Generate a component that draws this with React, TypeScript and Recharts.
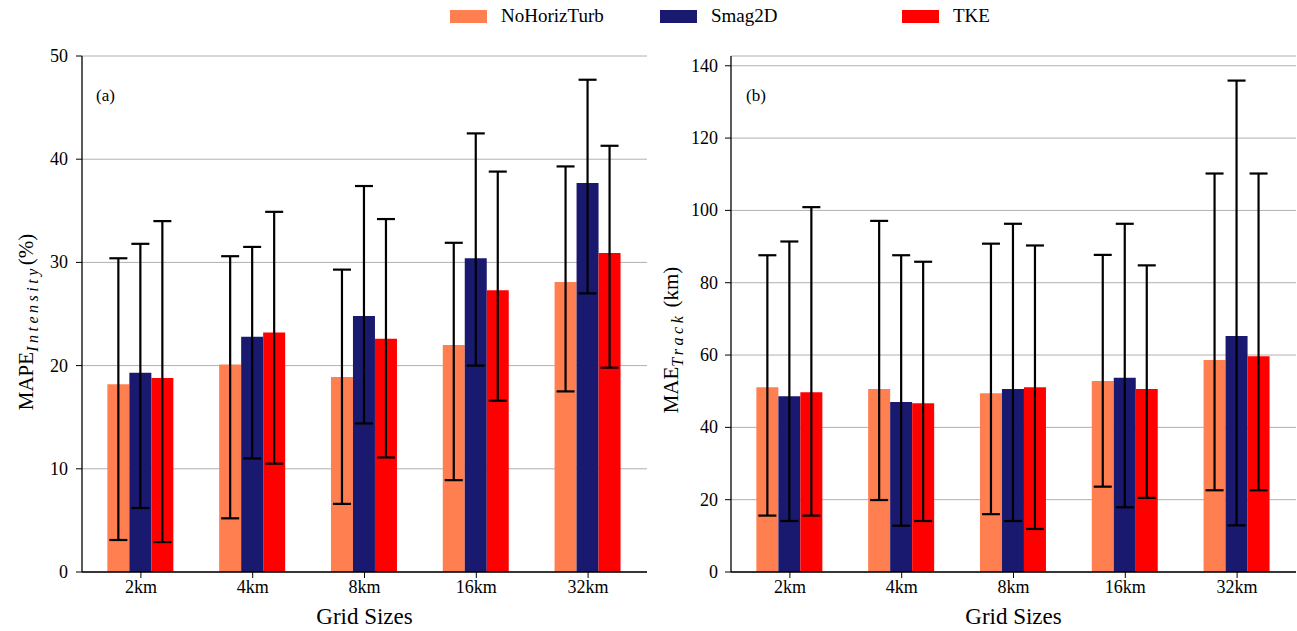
import React from 'react';
import { BarChart, Bar, XAxis, YAxis, CartesianGrid, ErrorBar } from 'recharts';

const FONT = 'Liberation Serif, DejaVu Serif, serif';

const categories = ['2km', '4km', '8km', '16km', '32km'];

// (a) MAPE intensity (%)
const intNoHoriz = [18.2, 20.1, 18.9, 22.0, 28.1];
const intNoHorizLow = [3.1, 5.2, 6.6, 8.9, 17.5];
const intNoHorizHigh = [30.4, 30.6, 29.3, 31.9, 39.3];
const intSmag = [19.3, 22.8, 24.8, 30.4, 37.7];
const intSmagLow = [6.2, 11.0, 14.4, 20.0, 27.0];
const intSmagHigh = [31.8, 31.5, 37.4, 42.5, 47.7];
const intTke = [18.8, 23.2, 22.6, 27.3, 30.9];
const intTkeLow = [2.9, 10.5, 11.1, 16.6, 19.8];
const intTkeHigh = [34.0, 34.9, 34.2, 38.8, 41.3];

// (b) MAE track (km)
const trkNoHoriz = [51.1, 50.6, 49.4, 52.8, 58.6];
const trkNoHorizLow = [15.6, 19.9, 16.0, 23.6, 22.6];
const trkNoHorizHigh = [87.6, 97.1, 90.8, 87.7, 110.2];
const trkSmag = [48.6, 47.0, 50.6, 53.7, 65.3];
const trkSmagLow = [14.1, 12.8, 14.1, 17.9, 12.9];
const trkSmagHigh = [91.4, 87.6, 96.3, 96.3, 135.9];
const trkTke = [49.7, 46.7, 51.1, 50.6, 59.7];
const trkTkeLow = [15.6, 14.1, 11.9, 20.5, 22.6];
const trkTkeHigh = [100.9, 85.8, 90.3, 84.8, 110.2];

const intTicks = [0, 10, 20, 30, 40, 50];
const trkTicks = [0, 20, 40, 60, 80, 100, 120, 140];

const series = [
  { key: 'noHoriz', name: 'NoHorizTurb', color: '#FF7F50' },
  { key: 'smag', name: 'Smag2D', color: '#191970' },
  { key: 'tke', name: 'TKE', color: '#FF0000' },
];

const err = (v: number, lo: number, hi: number) => [+(v - lo).toFixed(2), +(hi - v).toFixed(2)];

const intData = categories.map((cat, i) => ({
  cat,
  noHoriz: intNoHoriz[i],
  noHorizErr: err(intNoHoriz[i], intNoHorizLow[i], intNoHorizHigh[i]),
  smag: intSmag[i],
  smagErr: err(intSmag[i], intSmagLow[i], intSmagHigh[i]),
  tke: intTke[i],
  tkeErr: err(intTke[i], intTkeLow[i], intTkeHigh[i]),
}));

const trkData = categories.map((cat, i) => ({
  cat,
  noHoriz: trkNoHoriz[i],
  noHorizErr: err(trkNoHoriz[i], trkNoHorizLow[i], trkNoHorizHigh[i]),
  smag: trkSmag[i],
  smagErr: err(trkSmag[i], trkSmagLow[i], trkSmagHigh[i]),
  tke: trkTke[i],
  tkeErr: err(trkTke[i], trkTkeLow[i], trkTkeHigh[i]),
}));

// tick renderers with an explicit serif face
const XTick = ({ x, y, payload }: any) => (
  <text x={x} y={y + 15} textAnchor="middle" fontFamily={FONT} fontSize={18} fill="#000">
    {payload.value}
  </text>
);

const YTick = ({ x, y, payload }: any) => (
  <text x={x} y={y + 6} textAnchor="end" fontFamily={FONT} fontSize={18} fill="#000">
    {payload.value}
  </text>
);

const makeYLabel = (main: string, sub: string, rest: string, bx: number, cy: number) => () => (
  <text
    x={bx}
    y={cy}
    transform={`rotate(-90, ${bx}, ${cy})`}
    textAnchor="middle"
    fontFamily={FONT}
    fontSize={21}
    fill="#000"
  >
    {main}
    <tspan fontSize={16} fontStyle="italic" letterSpacing={3.5} dy={5}>{sub}</tspan>
    <tspan dy={-5}>{rest}</tspan>
  </text>
);

type PanelProps = {
  data: any[];
  width: number;
  marginLeft: number;
  marginRight: number;
  domain: [number, number];
  ticks: number[];
  tickMargin: number;
  yLabel: () => React.ReactElement;
};

const Panel = ({ data, width, marginLeft, marginRight, domain, ticks, tickMargin, yLabel }: PanelProps) => (
  <BarChart
    width={width}
    height={631}
    data={data}
    margin={{ top: 56, right: marginRight, bottom: 29, left: marginLeft }}
    barCategoryGap="20%"
    barGap={0}
  >
    {series.map((s) => (
      <Bar key={s.key} dataKey={s.key} name={s.name} fill={s.color} isAnimationActive={false}>
        <ErrorBar dataKey={`${s.key}Err`} stroke="#000" strokeWidth={2.2} width={9} />
      </Bar>
    ))}
    <CartesianGrid vertical={false} stroke="#b0b0b0" strokeWidth={1} />
    <XAxis
      dataKey="cat"
      height={30}
      padding={{ left: 3, right: 3 }}
      tick={<XTick />}
      tickSize={6}
      tickMargin={0}
      axisLine={{ stroke: '#000', strokeWidth: 1.3 }}
      tickLine={{ stroke: '#000' }}
      label={{ value: 'Grid Sizes', position: 'insideBottom', offset: -22, fill: '#000', fontSize: 23, fontFamily: FONT }}
    />
    <XAxis xAxisId="top" orientation="top" dataKey="cat" height={0} tick={false} tickLine={false} axisLine={{ stroke: '#000', strokeWidth: 1.3 }} />
    <YAxis
      width={50}
      domain={domain}
      ticks={ticks}
      type="number"
      allowDataOverflow
      tick={<YTick />}
      tickSize={6}
      tickMargin={tickMargin}
      axisLine={{ stroke: '#000', strokeWidth: 1.3 }}
      tickLine={{ stroke: '#000' }}
      label={{ content: yLabel }}
    />
    <YAxis yAxisId="right" orientation="right" width={0} tick={false} tickLine={false} axisLine={{ stroke: '#000', strokeWidth: 1.3 }} />
  </BarChart>
);

const legendItems = [
  { name: 'NoHorizTurb', color: '#FF7F50', left: 450 },
  { name: 'Smag2D', color: '#191970', left: 660 },
  { name: 'TKE', color: '#FF0000', left: 902 },
];

export default function App() {
  return (
    <div style={{ position: 'absolute', left: 0, top: 0, width: 1297, height: 631, background: '#fff', fontFamily: FONT }}>
      {legendItems.map((it) => (
        <div key={it.name} style={{ position: 'absolute', left: it.left, top: 4, height: 24, display: 'flex', alignItems: 'center' }}>
          <span style={{ display: 'inline-block', width: 37, height: 13, background: it.color, marginRight: 14 }} />
          <span style={{ fontSize: 19, color: '#000' }}>{it.name}</span>
        </div>
      ))}
      <div style={{ position: 'absolute', left: 0, top: 0 }}>
        <Panel
          data={intData}
          width={655}
          marginLeft={32}
          marginRight={8}
          domain={[0, 50]}
          ticks={intTicks}
          tickMargin={8}
          yLabel={makeYLabel('MAPE', 'Intensity', '(%)', 33, 322)}
        />
      </div>
      <div style={{ position: 'absolute', left: 650, top: 0 }}>
        <Panel
          data={trkData}
          width={647}
          marginLeft={31}
          marginRight={1}
          domain={[0, 142.7]}
          ticks={trkTicks}
          tickMargin={7}
          yLabel={makeYLabel('MAE', 'Track', ' (km)', 28, 340)}
        />
      </div>
      <div style={{ position: 'absolute', left: 96, top: 86, fontSize: 17 }}>(a)</div>
      <div style={{ position: 'absolute', left: 746, top: 86, fontSize: 17 }}>(b)</div>
    </div>
  );
}
